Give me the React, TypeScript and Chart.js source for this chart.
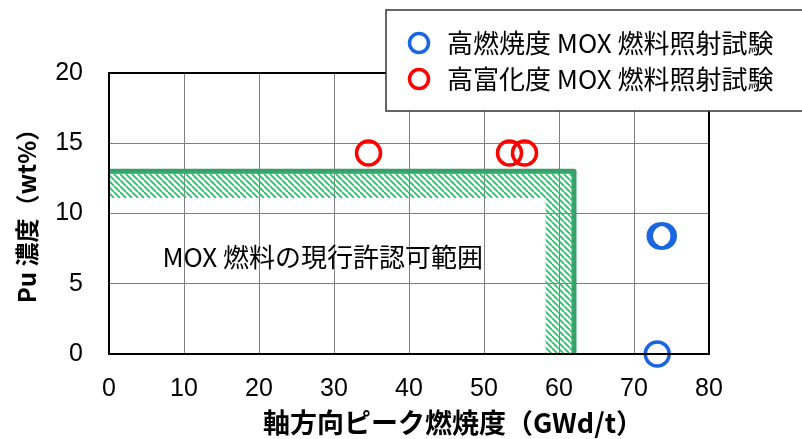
import React, { useEffect, useRef } from "react";
import { Chart, registerables } from "chart.js";

Chart.register(...registerables);

// ---- data ----
const highBurnupX = [73.1, 73.5, 73.9];
const highBurnupY = [0, 8.4, 8.4];
const highEnrichX = [34.6, 53.4, 55.4];
const highEnrichY = [14.3, 14.3, 14.3];
const limitX = [0, 62, 62];
const limitY = [13, 13, 0];
const bandX = [0, 58.2, 58.2, 62, 62, 0, 0];
const bandY = [11.1, 11.1, 0, 0, 13, 13, 11.1];
const seriesLabels = ["高燃焼度 MOX 燃料照射試験", "高富化度 MOX 燃料照射試験"];
const xTitle = "軸方向ピーク燃焼度（GWd/t）";
const yTitle = "Pu 濃度（wt%）";
const regionLabel = "MOX 燃料の現行許認可範囲";
const regionLabelX = 28.5;
const regionLabelY = 6.9;
const xMin = 0, xMax = 80, xStep = 10;
const yMin = 0, yMax = 20, yStep = 5;

const BLUE = "#1a66e0";
const RED = "#ff0000";
const GREEN = "#3a9d6b";
const HATCH = "#1fc466";
const CJK = '"Noto Sans CJK JP", "Noto Sans", sans-serif';
const NUM = '"Liberation Sans", Arial, sans-serif';

const zip = (xs: number[], ys: number[]) => xs.map((x, i) => ({ x, y: ys[i] }));

function makeHatch(): CanvasPattern | string {
  const s = 6;
  const c = document.createElement("canvas");
  c.width = s;
  c.height = s;
  const g = c.getContext("2d");
  if (!g) return HATCH;
  g.strokeStyle = HATCH;
  g.lineWidth = 1.7;
  g.beginPath();
  for (const k of [-s, 0, s]) {
    g.moveTo(k, 0);
    g.lineTo(k + s, s);
  }
  g.stroke();
  const p = g.createPattern(c, "repeat");
  return p || HATCH;
}

const decorPlugin = {
  id: "decor",
  afterDraw(chart: any) {
    const { ctx, chartArea, scales } = chart;
    ctx.save();
    // frame
    ctx.strokeStyle = "#000";
    ctx.lineWidth = 2;
    ctx.strokeRect(chartArea.left, chartArea.top, chartArea.right - chartArea.left, chartArea.bottom - chartArea.top);
    // region label
    ctx.fillStyle = "#000";
    ctx.font = `26px ${CJK}`;
    ctx.textAlign = "center";
    ctx.textBaseline = "middle";
    ctx.fillText(regionLabel, scales.x.getPixelForValue(regionLabelX), scales.y.getPixelForValue(regionLabelY));
    // axis titles
    ctx.font = `bold 27px ${CJK}`;
    ctx.fillText(xTitle, 453, 423);
    ctx.save();
    ctx.translate(27, 210);
    ctx.rotate(-Math.PI / 2);
    ctx.font = `bold 24px ${CJK}`;
    ctx.fillText(yTitle, 0, 0);
    ctx.restore();
    // legend
    const lx = 386, ly = 10, lw = 430, lh = 101;
    ctx.fillStyle = "#fff";
    ctx.fillRect(lx, ly, lw, lh);
    ctx.strokeStyle = "#333";
    ctx.lineWidth = 1.5;
    ctx.strokeRect(lx, ly, lw, lh);
    const items = [chart.data.datasets[2], chart.data.datasets[3]];
    items.forEach((ds: any, i: number) => {
      const cy = 43 + i * 36;
      ctx.beginPath();
      ctx.arc(419, cy, 9.5, 0, Math.PI * 2);
      ctx.strokeStyle = ds.borderColor;
      ctx.lineWidth = 3.5;
      ctx.stroke();
      ctx.fillStyle = "#000";
      ctx.font = `26px ${CJK}`;
      ctx.textAlign = "left";
      ctx.textBaseline = "middle";
      ctx.fillText(ds.label, 447, cy);
    });
    ctx.restore();
  },
};

export default function App() {
  const ref = useRef<HTMLCanvasElement>(null);
  useEffect(() => {
    document.body.style.margin = "0";
    if (!ref.current) return;
    const hatch = makeHatch();
    const chart = new Chart(ref.current, {
      type: "scatter",
      data: {
        datasets: [
          {
            label: "band",
            data: zip(bandX, bandY),
            showLine: true,
            fill: "shape",
            backgroundColor: hatch as any,
            borderWidth: 0,
            borderColor: "rgba(0,0,0,0)",
            pointRadius: 0,
            tension: 0,
          } as any,
          {
            label: "limit",
            data: zip(limitX, limitY),
            showLine: true,
            fill: false,
            borderColor: GREEN,
            borderWidth: 5,
            borderJoinStyle: "round",
            borderCapStyle: "round",
            pointRadius: 0,
          } as any,
          {
            label: seriesLabels[0],
            data: zip(highBurnupX, highBurnupY),
            showLine: false,
            borderColor: BLUE,
            backgroundColor: "rgba(0,0,0,0)",
            pointRadius: 12,
            pointBorderWidth: 3.5,
            clip: false,
          } as any,
          {
            label: seriesLabels[1],
            data: zip(highEnrichX, highEnrichY),
            showLine: false,
            borderColor: RED,
            backgroundColor: "rgba(0,0,0,0)",
            pointRadius: 12,
            pointBorderWidth: 3.5,
            clip: false,
          } as any,
        ],
      },
      options: {
        animation: false,
        responsive: false,
        devicePixelRatio: 1,
        layout: { padding: { top: 73, right: 93, left: 0, bottom: 0 } },
        plugins: { legend: { display: false }, tooltip: { enabled: false } },
        scales: {
          x: {
            type: "linear",
            min: xMin,
            max: xMax,
            ticks: { stepSize: xStep, color: "#000", font: { family: NUM, size: 25 }, padding: 20 },
            grid: { color: "#808080", lineWidth: 1, drawTicks: false },
            border: { display: false },
            afterFit: (s: any) => { s.height = 85; },
          },
          y: {
            type: "linear",
            min: yMin,
            max: yMax,
            ticks: { stepSize: yStep, color: "#000", font: { family: NUM, size: 25 }, padding: 26 },
            grid: { color: "#808080", lineWidth: 1, drawTicks: false },
            border: { display: false },
            afterFit: (s: any) => { s.width = 109; },
          },
        },
      } as any,
      plugins: [decorPlugin],
    });
    return () => chart.destroy();
  }, []);
  return (
    <div style={{ width: 802, height: 439 }}>
      <canvas ref={ref} width={802} height={439} />
    </div>
  );
}
